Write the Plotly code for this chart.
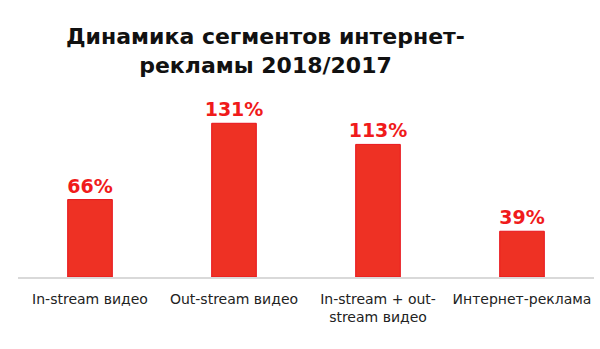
import plotly.graph_objects as go

categories = ["In-stream видео", "Out-stream видео", "In-stream + out-<br>stream видео", "Интернет-реклама"]
values = [66, 131, 113, 39]
labels = ["66%", "131%", "113%", "39%"]
title_text = "Динамика сегментов интернет-<br>рекламы 2018/2017"

fig = go.Figure(go.Bar(
    x=categories, y=values, text=labels, textposition="outside",
    constraintext="none",
    marker=dict(color="#EE3124", line=dict(color="#E8141B", width=1)),
    textfont=dict(family="DejaVu Sans", size=19, color="#F01B1B", weight="bold"),
    cliponaxis=False,
))

fig.add_annotation(
    text="<b>" + title_text + "</b>", xref="paper", yref="paper",
    x=0.43, y=1.45, xanchor="center", yanchor="top", showarrow=False,
    font=dict(family="DejaVu Sans", size=22, color="#111111"), align="center",
)

fig.update_layout(
    width=600, height=349,
    margin=dict(l=18, r=6, t=101, b=72),
    paper_bgcolor="white", plot_bgcolor="white",
    bargap=0.69,
    showlegend=False,
    xaxis=dict(showline=True, linecolor="#D9D9D9", linewidth=1.5, ticks="",
               ticklabelstandoff=8,
               tickfont=dict(family="DejaVu Sans", size=14, color="#222222")),
    yaxis=dict(range=[0, 150], visible=False),
)

fig.write_html("out.html")
